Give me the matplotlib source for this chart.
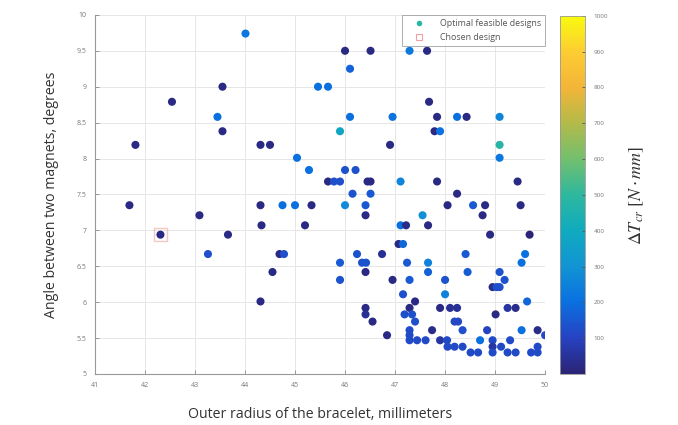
import numpy as np
import matplotlib
matplotlib.use("Agg")
import matplotlib.pyplot as plt
from matplotlib.colors import LinearSegmentedColormap
from matplotlib.lines import Line2D

# Design samples: outer radius (mm), angle between magnets (deg), delta torque (N*mm)
radius = [
    44.01, 46.00, 46.51, 47.29, 47.64, 46.10, 45.46, 45.66, 43.55, 42.54,
    47.68, 43.45, 46.10, 46.95, 47.84, 48.24, 48.43, 49.09, 43.55, 45.90,
    47.79, 47.90, 41.81, 44.31, 44.50, 46.90, 49.09, 45.04, 49.09, 45.28,
    46.00, 46.21, 45.66, 45.78, 45.90, 46.45, 46.51, 47.11, 47.84, 49.45,
    46.15, 46.51, 48.24, 41.69, 44.31, 44.75, 45.00, 45.33, 46.00, 46.41,
    48.05, 48.56, 48.80, 49.51, 43.09, 46.41, 47.55, 48.75, 44.33, 45.20,
    47.11, 47.22, 47.66, 42.31, 43.66, 48.90, 49.69, 47.07, 47.16, 43.26,
    44.69, 44.78, 46.24, 46.74, 48.41, 49.60, 45.90, 46.34, 46.42, 47.24,
    47.66, 49.53, 44.55, 46.41, 47.66, 48.45, 49.09, 45.90, 46.95, 47.29,
    48.00, 49.19, 48.95, 49.03, 49.09, 47.16, 48.00, 44.31, 47.40, 49.64,
    46.41, 47.29, 47.90, 48.10, 48.24, 49.25, 49.41, 46.41, 47.19, 47.34,
    49.01, 46.55, 47.40, 48.19, 48.26, 46.84, 47.29, 47.74, 48.35, 48.84,
    49.53, 49.85, 50.00, 47.29, 47.44, 47.61, 47.90, 48.04, 48.70, 48.95,
    49.30, 48.05, 48.19, 48.35, 48.95, 49.12, 49.85, 48.51, 48.66, 48.95,
    49.25, 49.41, 49.72, 49.85, 47.29,
]
angle = [
    9.74, 9.50, 9.50, 9.50, 9.50, 9.25, 9.00, 9.00, 9.00, 8.79,
    8.79, 8.58, 8.58, 8.58, 8.58, 8.58, 8.58, 8.58, 8.38, 8.38,
    8.38, 8.38, 8.19, 8.19, 8.19, 8.19, 8.19, 8.01, 8.01, 7.84,
    7.84, 7.84, 7.68, 7.68, 7.68, 7.68, 7.68, 7.68, 7.68, 7.68,
    7.51, 7.51, 7.51, 7.35, 7.35, 7.35, 7.35, 7.35, 7.35, 7.35,
    7.35, 7.35, 7.35, 7.35, 7.21, 7.21, 7.21, 7.21, 7.07, 7.07,
    7.07, 7.07, 7.07, 6.94, 6.94, 6.94, 6.94, 6.81, 6.81, 6.67,
    6.67, 6.67, 6.67, 6.67, 6.67, 6.67, 6.55, 6.55, 6.55, 6.55,
    6.55, 6.55, 6.42, 6.42, 6.42, 6.42, 6.42, 6.31, 6.31, 6.31,
    6.31, 6.31, 6.21, 6.21, 6.21, 6.11, 6.11, 6.01, 6.01, 6.01,
    5.92, 5.92, 5.92, 5.92, 5.92, 5.92, 5.92, 5.83, 5.83, 5.83,
    5.83, 5.73, 5.73, 5.73, 5.73, 5.54, 5.61, 5.61, 5.61, 5.61,
    5.61, 5.61, 5.54, 5.47, 5.47, 5.47, 5.47, 5.47, 5.47, 5.47,
    5.47, 5.38, 5.38, 5.38, 5.38, 5.38, 5.38, 5.30, 5.30, 5.30,
    5.30, 5.30, 5.30, 5.30, 5.54,
]
delta_torque = [
    220, 20, 20, 230, 20, 170, 200, 200, 20, 20,
    20, 200, 200, 210, 20, 200, 20, 260, 20, 380,
    20, 210, 20, 20, 20, 20, 480, 200, 220, 200,
    140, 140, 20, 130, 130, 20, 20, 260, 20, 20,
    140, 150, 20, 20, 20, 200, 200, 20, 280, 150,
    20, 150, 20, 20, 20, 20, 290, 20, 20, 20,
    200, 30, 20, 20, 20, 20, 5, 20, 180, 130,
    20, 130, 140, 40, 150, 200, 150, 140, 140, 150,
    250, 200, 20, 20, 170, 160, 140, 140, 20, 150,
    140, 140, 30, 130, 130, 130, 250, 20, 20, 180,
    20, 20, 20, 40, 40, 60, 30, 40, 130, 130,
    20, 20, 130, 110, 110, 20, 120, 30, 130, 100,
    200, 30, 110, 120, 120, 120, 60, 120, 200, 120,
    120, 120, 120, 120, 60, 120, 120, 120, 120, 120,
    120, 120, 120, 120, 120,
]

chosen_radius = [42.31]
chosen_angle = [6.94]

x_ticks = [41, 42, 43, 44, 45, 46, 47, 48, 49, 50]
y_ticks = [5, 5.5, 6, 6.5, 7, 7.5, 8, 8.5, 9, 9.5, 10]
y_tick_labels = ['5', '5.5', '6', '6.5', '7', '7.5', '8', '8.5', '9', '9.5', '10']
cbar_ticks = [100, 200, 300, 400, 500, 600, 700, 800, 900, 1000]

# Parula-like colormap
parula = LinearSegmentedColormap.from_list("parula", [
    (0.00, (0.170, 0.140, 0.460)),
    (0.10, (0.150, 0.260, 0.760)),
    (0.20, (0.040, 0.440, 0.880)),
    (0.30, (0.070, 0.580, 0.830)),
    (0.40, (0.060, 0.670, 0.750)),
    (0.50, (0.180, 0.720, 0.620)),
    (0.60, (0.450, 0.750, 0.430)),
    (0.70, (0.700, 0.730, 0.290)),
    (0.80, (0.950, 0.710, 0.220)),
    (0.90, (0.990, 0.800, 0.200)),
    (1.00, (0.976, 0.983, 0.054)),
])

plt.rcParams['font.family'] = ['Open Sans', 'DejaVu Sans']
plt.rcParams['mathtext.fontset'] = 'stix'

fig = plt.figure(figsize=(6.78, 4.25), dpi=100)
ax = fig.add_axes([0.140, 0.12, 0.664, 0.845])
cax = fig.add_axes([0.826, 0.12, 0.037, 0.843])

sc = ax.scatter(radius, angle, c=delta_torque, cmap=parula, vmin=0, vmax=1000,
                s=34, edgecolors='none', zorder=3)
ax.scatter(chosen_radius, chosen_angle, marker='s', s=80, facecolors='none',
           edgecolors='#f2b8b8', linewidths=1.0, alpha=0.8, zorder=4)

ax.set_xlim(41, 50)
ax.set_ylim(5, 10)
ax.set_xticks(x_ticks)
ax.set_yticks(y_ticks)
ax.set_xticklabels([str(t) for t in x_ticks])
ax.set_yticklabels(y_tick_labels)
ax.tick_params(direction='in', length=3, width=0.6, colors='#888888',
               labelsize=5, labelcolor='#777777', pad=6)
ax.grid(True, color='#e6e6e6', linewidth=0.7, zorder=0)
ax.set_axisbelow(True)
for side in ('top', 'right'):
    ax.spines[side].set_visible(False)
for side in ('left', 'bottom'):
    ax.spines[side].set_color('#999999')
    ax.spines[side].set_linewidth(0.8)

ax.set_xlabel('Outer radius of the bracelet, millimeters', fontsize=10.2,
              color='#333333', labelpad=13)
ax.set_ylabel('Angle between two magnets, degrees', fontsize=10.2,
              color='#333333', labelpad=13)

handles = [
    Line2D([], [], linestyle='none', marker='o', markersize=4,
           markerfacecolor=parula(0.48), markeredgecolor='none',
           label='Optimal feasible designs'),
    Line2D([], [], linestyle='none', marker='s', markersize=5,
           markerfacecolor='none', markeredgecolor='#f2a0a0',
           markeredgewidth=0.8, label='Chosen design'),
]
leg = ax.legend(handles=handles, loc='upper right', fontsize=6.4,
                frameon=True, fancybox=False, borderpad=0.45,
                handlelength=3.0, handletextpad=0.8, labelspacing=0.55,
                borderaxespad=0.05)
leg.get_frame().set_edgecolor('#999999')
leg.get_frame().set_linewidth(0.7)
for t in leg.get_texts():
    t.set_color('#555555')

cb = fig.colorbar(sc, cax=cax, ticks=cbar_ticks)
cb.outline.set_edgecolor('#999999')
cb.outline.set_linewidth(0.6)
cax.tick_params(direction='in', length=2, width=0.6, colors='#555555',
                labelsize=4.5, labelcolor='#777777', pad=6)
cb.set_label(r'$\Delta T_{cr}\ [N \cdot mm]$', fontsize=13, color='#333333',
             labelpad=14)

fig.savefig('out.png', dpi=100)
